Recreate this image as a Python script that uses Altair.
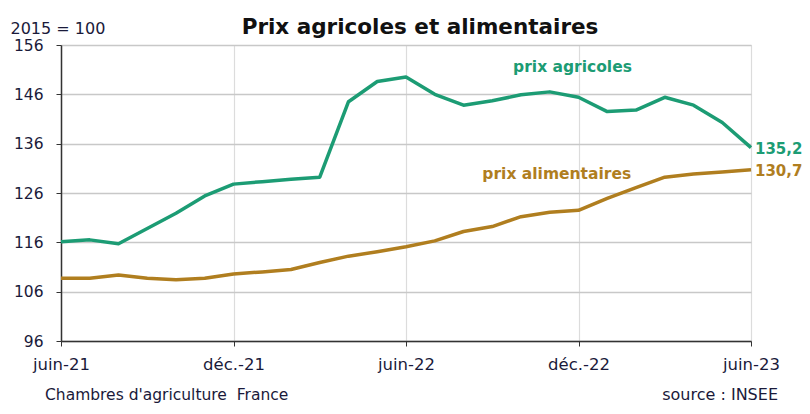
import altair as alt
import pandas as pd

# --- data ---
mois = ["juin-21", "juil.-21", "août-21", "sept.-21", "oct.-21", "nov.-21", "déc.-21",
        "janv.-22", "févr.-22", "mars-22", "avr.-22", "mai-22", "juin-22",
        "juil.-22", "août-22", "sept.-22", "oct.-22", "nov.-22", "déc.-22",
        "janv.-23", "févr.-23", "mars-23", "avr.-23", "mai-23", "juin-23"]
prix_agricoles = [116.1, 116.5, 115.7, 118.8, 121.9, 125.4, 127.8, 128.3, 128.8, 129.2,
                  144.5, 148.6, 149.5, 146.0, 143.8, 144.7, 145.9, 146.5, 145.4,
                  142.5, 142.8, 145.4, 143.8, 140.3, 135.2]
prix_alimentaires = [108.7, 108.7, 109.4, 108.7, 108.4, 108.7, 109.6, 110.0, 110.5, 111.9,
                     113.2, 114.1, 115.1, 116.3, 118.2, 119.2, 121.2, 122.1, 122.5,
                     124.9, 127.1, 129.2, 129.85, 130.25, 130.7]
x_ticks = ["juin-21", "déc.-21", "juin-22", "déc.-22", "juin-23"]
y_ticks = [96, 106, 116, 126, 136, 146, 156]
series = ["prix agricoles", "prix alimentaires"]
colors = ["#1c9c74", "#b07e1f"]

FONT = "DejaVu Sans"
TXT = "#1a1a3a"

rows = []
for s, vals in zip(series, [prix_agricoles, prix_alimentaires]):
    for m, v in zip(mois, vals):
        rows.append({"mois": m, "valeur": v, "serie": s})
df = pd.DataFrame(rows)

x_enc = alt.X("mois:O", sort=mois,
              scale=alt.Scale(type="point", padding=0, domain=mois),
              axis=alt.Axis(values=x_ticks, labelAngle=0, title=None,
                            labelFont=FONT, labelFontSize=16.5, labelColor=TXT,
                            labelPadding=10, tickSize=5, tickColor="#333333",
                            domainColor="#333333", domainWidth=1.5,
                            grid=True, gridColor="#dcdcdc", gridWidth=1.2))
y_enc = alt.Y("valeur:Q",
              scale=alt.Scale(domain=[96, 156], nice=False, zero=False),
              axis=alt.Axis(values=y_ticks, title="2015 = 100", titleAngle=0,
                            titleX=-51, titleY=-12, titleAlign="left",
                            titleBaseline="alphabetic", titleFont=FONT,
                            titleFontSize=16, titleFontWeight="normal",
                            titleColor=TXT,
                            labelFont=FONT, labelFontSize=15.5, labelColor=TXT,
                            labelPadding=13, tickSize=5, tickColor="#333333",
                            domainColor="#333333", domainWidth=1.5,
                            grid=True, gridColor="#c8c8c8", gridWidth=1.3))
color_enc = alt.Color("serie:N", scale=alt.Scale(domain=series, range=colors), legend=None)

lines = alt.Chart(df).mark_line(strokeWidth=3.5, strokeJoin="round").encode(
    x=x_enc, y=y_enc, color=color_enc)

last = df[df["mois"] == mois[-1]].copy()
last["lab"] = last["valeur"].map(lambda v: f"{v:.1f}".replace(".", ","))
end_labels = alt.Chart(last).mark_text(
    align="left", baseline="middle", dx=4, dy=1, font=FONT, fontSize=15,
    fontWeight="bold").encode(
    x=alt.X("mois:O", sort=mois), y="valeur:Q", text="lab:N", color=color_enc)

names = pd.DataFrame({"serie": series, "mois": ["déc.-22", "nov.-22"],
                      "valeur": [150.6, 128.8]})


def name_label(i, dx):
    return alt.Chart(names.iloc[[i]]).mark_text(
        align="center", baseline="alphabetic", font=FONT, fontSize=15.5,
        fontWeight="bold", dx=dx).encode(
        x=alt.X("mois:O", sort=mois), y="valeur:Q", text="serie:N", color=color_enc)


def note(text, x, y, **kw):
    return alt.Chart(pd.DataFrame({"t": [text]})).mark_text(
        font=FONT, baseline="alphabetic", **kw).encode(
        x=alt.value(x), y=alt.value(y), text="t:N")


title = note("Prix agricoles et alimentaires", 359, -11, align="center",
             fontSize=21.5, fontWeight="bold", color="#111111")
foot_l = note("Chambres d'agriculture\u00a0\u00a0France", -16, 355, align="left",
              fontSize=15.5, color=TXT)
foot_r = note("source : INSEE", 717, 355, align="right", fontSize=16, color=TXT)

chart = alt.layer(lines, end_labels, name_label(0, -6), name_label(1, 7),
                  title, foot_l, foot_r).properties(
    width=690, height=296,
    autosize=alt.AutoSizeParams(type="none"),
    padding={"left": 53, "top": 37, "right": 51, "bottom": 65},
).configure_view(stroke=None).configure(background="white")

chart.save("out.html", embed_options={"renderer": "svg", "actions": False})
